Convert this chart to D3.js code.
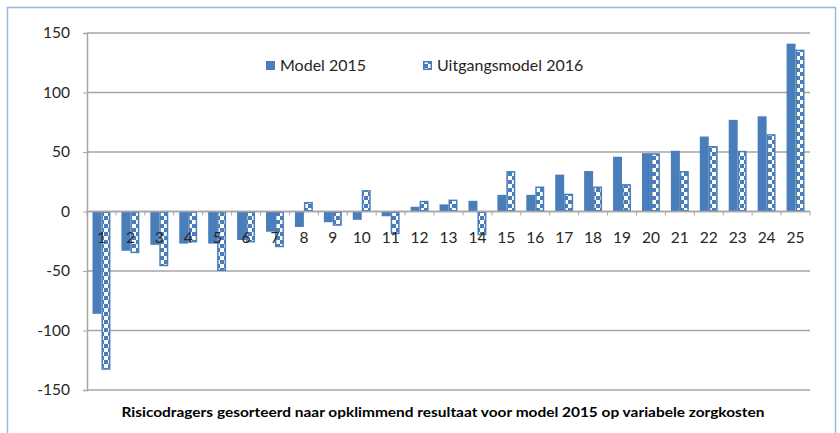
<!DOCTYPE html>
<html><head><meta charset="utf-8">
<script src="https://cdn.jsdelivr.net/npm/d3@7"></script>
<style>body{margin:0;background:#fff;} svg{display:block;}</style>
</head><body>
<svg id="c" width="840" height="433"></svg>
<script>
const categories = ["1","2","3","4","5","6","7","8","9","10","11","12","13","14","15","16","17","18","19","20","21","22","23","24","25"];
const seriesNames = ["Model 2015", "Uitgangsmodel 2016"];
const model2015 = [-86, -33, -28, -27, -27, -24, -17, -13, -9, -7, -4, 4, 6, 9, 14, 14, 31, 34, 46, 49, 51, 63, 77, 80, 141];
const uitgang2016 = [-133, -35, -46, -26, -50, -26, -30, 8, -12, 18, -19, 9, 10, -20, 34, 21, 15, 21, 23, 49, 34, 55, 51, 65, 136];
const yTicks = [-150, -100, -50, 0, 50, 100, 150];
const xTitle = "Risicodragers gesorteerd naar opklimmend resultaat voor model 2015 op variabele zorgkosten";

const blue = "#4a7ebb";
const font = "Lato, 'Open Sans', sans-serif";
const svg = d3.select("#c");
const defs = svg.append("defs");
const pat = defs.append("pattern").attr("id","chk").attr("patternUnits","userSpaceOnUse")
  .attr("width",8).attr("height",8);
pat.append("rect").attr("width",8).attr("height",8).attr("fill","#fff");
pat.append("rect").attr("x",0).attr("y",0).attr("width",4).attr("height",4).attr("fill",blue);
pat.append("rect").attr("x",4).attr("y",4).attr("width",4).attr("height",4).attr("fill",blue);

// frame
svg.append("rect").attr("x",7.5).attr("y",7.5).attr("width",828).attr("height",440)
  .attr("fill","none").attr("stroke","#9bb7d9").attr("stroke-width",1.5);

const x = d3.scaleBand().domain(categories).range([87, 810]).paddingInner(0.38).paddingOuter(0.19);
const xs = d3.scaleBand().domain(seriesNames).range([0, x.bandwidth()]);
const y = d3.scaleLinear().domain([-150, 150]).range([390, 33]);

// gridlines
svg.append("g").selectAll("line").data(yTicks).join("line")
  .attr("x1",87).attr("x2",810).attr("y1",d=>y(d)).attr("y2",d=>y(d))
  .attr("stroke","#a6a6a6").attr("stroke-width",1.5);

// y axis
const yAxis = d3.axisLeft(y).tickValues(yTicks).tickSize(4).tickPadding(13).tickFormat(d=>String(d));
const gy = svg.append("g").attr("transform","translate(87,0)").call(yAxis);
gy.select(".domain").attr("stroke","#a6a6a6").attr("stroke-width",1.5);
gy.selectAll(".tick line").attr("stroke","#a6a6a6");
gy.selectAll(".tick text").attr("font-family",font).attr("font-size",15.5).attr("fill","#262626");

// bars
const data = categories.map((c,i)=>({c, vals:[model2015[i], uitgang2016[i]]}));
const g = svg.append("g");
data.forEach(d=>{
  d.vals.forEach((v,j)=>{
    const sx = x(d.c) + xs(seriesNames[j]);
    const top = y(Math.max(0,v)), bot = y(Math.min(0,v));
    if (j===0) {
      g.append("rect").attr("x",sx).attr("y",top).attr("width",xs.bandwidth()).attr("height",bot-top).attr("fill",blue);
    } else {
      g.append("rect").attr("x",sx+0.75).attr("y",top+0.75).attr("width",xs.bandwidth()-1.5).attr("height",Math.max(0,bot-top-1.5))
        .attr("fill","url(#chk)").attr("stroke",blue).attr("stroke-width",1.5);
    }
  });
});

// x axis line at 0 + ticks
svg.append("line").attr("x1",87).attr("x2",810).attr("y1",y(0)).attr("y2",y(0)).attr("stroke","#a6a6a6").attr("stroke-width",1.5);
const step = x.step();
svg.append("g").selectAll("line").data(d3.range(categories.length+1)).join("line")
  .attr("x1",i=>87+i*step).attr("x2",i=>87+i*step).attr("y1",y(0)).attr("y2",y(0)+4)
  .attr("stroke","#a6a6a6").attr("stroke-width",1);

// category labels
svg.append("g").selectAll("text").data(categories).join("text")
  .attr("x",d=>x(d)+x.bandwidth()/2).attr("y",y(0)+31)
  .attr("text-anchor","middle").attr("font-family",font).attr("font-size",15.5).attr("fill","#262626")
  .text(d=>d);

// legend
const leg = svg.append("g");
const legItems = [{name:seriesNames[0], x:266}, {name:seriesNames[1], x:423}];
legItems.forEach((it,j)=>{
  if (j===0) leg.append("rect").attr("x",it.x).attr("y",61).attr("width",9).attr("height",9).attr("fill",blue);
  else leg.append("rect").attr("x",it.x+0.75).attr("y",61.75).attr("width",7.5).attr("height",7.5).attr("fill","url(#chk)").attr("stroke",blue).attr("stroke-width",1.5);
  leg.append("text").attr("x",it.x+14).attr("y",71).attr("font-family",font).attr("font-size",16).attr("fill","#262626").text(it.name);
});

// x title
svg.append("text").attr("x",443).attr("y",417).attr("text-anchor","middle")
  .attr("font-family",font).attr("font-weight","bold").attr("font-size",14).attr("fill","#000")
  .attr("textLength",643).attr("lengthAdjust","spacingAndGlyphs")
  .text(xTitle);
</script>
</body></html>
